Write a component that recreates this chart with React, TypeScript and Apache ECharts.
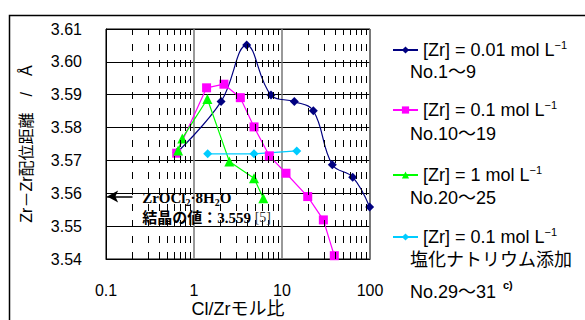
import React, { useEffect, useRef } from "react";
import * as echarts from "echarts";

// ---- data ----
const X_MINOR = [0.2, 0.3, 0.4, 0.5, 0.6, 0.7, 0.8, 0.9, 2, 3, 4, 5, 6, 7, 8, 9, 20, 30, 40, 50, 60, 70, 80, 90];

const s1X = [0.64, 2.03, 3.97, 7.5, 13.8, 22.7, 37.3, 63.6, 99];
const s1Y = [3.5724, 3.5879, 3.6051, 3.5899, 3.5879, 3.5851, 3.5687, 3.5649, 3.5558];

const s2X = [0.636, 1.39, 2.19, 3.36, 4.81, 7.18, 11.1, 19.6, 29.5, 39.3];
const s2Y = [3.5722, 3.5921, 3.5932, 3.5891, 3.5802, 3.5714, 3.5661, 3.559, 3.5519, 3.541];

const s3X = [0.66, 0.736, 1.42, 2.52, 4.81, 6.13];
const s3Y = [3.573, 3.5767, 3.5887, 3.5697, 3.5646, 3.5585];

const s4X = [1.43, 4.81, 14.7];
const s4Y = [3.572, 3.572, 3.5729];

const SERIES_NAMES = [
  "[Zr] = 0.01 mol L-1 No.1〜9",
  "[Zr] = 0.1 mol L-1 No.10〜19",
  "[Zr] = 1 mol L-1 No.20〜25",
  "[Zr] = 0.1 mol L-1 塩化ナトリウム添加 No.29〜31",
];
const LEGEND_CONC = ["0.01", "0.1", "1", "0.1"];
const LEGEND_SUB = [["No.1〜9"], ["No.10〜19"], ["No.20〜25"], ["塩化ナトリウム添加", "No.29〜31"]];
const COLORS = ["#000080", "#FF00FF", "#00FF00", "#00CCFF"];
const SYMBOLS = ["diamond", "rect", "triangle", "diamond"];
const SYMBOL_SIZES = [9, 9, 10, 9];

const REF_VALUE = 3.559;
const ANNOT_LINE1 = "ZrOCl{s|2}·8H{s|2}O";
const ANNOT_LINE2 = "結晶の値：3.559 ";
const ANNOT_REF = "[5]";

const SANS = "'Liberation Sans', 'Noto Sans CJK JP', sans-serif";
const SERIF = "'Liberation Serif', 'DejaVu Serif', 'Noto Sans CJK JP', serif";

const zip = (xs: number[], ys: number[]) => xs.map((x, i) => [x, ys[i]]);

export default function App() {
  const ref = useRef<HTMLDivElement>(null);
  useEffect(() => {
    document.body.style.margin = "0";
    const chart = echarts.init(ref.current!, undefined, { renderer: "svg" });
    const seriesData = [zip(s1X, s1Y), zip(s2X, s2Y), zip(s3X, s3Y), zip(s4X, s4Y)];
    const legendIconY = [50, 110, 175, 237];
    const subLineY = [[71.5], [134], [198], [260, 291.5]];

    const legends = SERIES_NAMES.map((name, i) => ({
      data: [name],
      orient: "vertical",
      left: 392,
      top: legendIconY[i] - 11,
      padding: 0,
      itemWidth: 25,
      itemHeight: 9,
      selectedMode: false,
      formatter: () => `{n|[Zr] = ${LEGEND_CONC[i]} mol L}{sup|−1}`,
      textStyle: {
        fontFamily: SANS,
        fontSize: 18,
        lineHeight: 22,
        color: "#000",
        rich: {
          n: { fontFamily: SANS, fontSize: 18, lineHeight: 22, color: "#000" },
          sup: { fontFamily: SANS, fontSize: 11, lineHeight: 13, verticalAlign: "top", color: "#000" },
        },
      },
    }));

    const graphics: any[] = [
      {
        type: "rect",
        left: 7,
        top: 13,
        shape: { x: 0, y: 0, width: 700, height: 400 },
        style: { fill: "none", stroke: "#000", lineWidth: 1.5 },
        silent: true,
      },
    ];
    LEGEND_SUB.forEach((lines, i) => {
      lines.forEach((t, j) => {
        graphics.push({
          type: "text",
          x: 410,
          y: subLineY[i][j],
          style: {
            text: t,
            font: `18px ${SANS}`,
            fill: "#000",
            verticalAlign: "middle",
          },
        });
      });
    });
    graphics.push({
      type: "text",
      x: 503,
      y: 285,
      style: { text: "c)", font: `bold 11px ${SANS}`, fill: "#000", verticalAlign: "middle" },
    });

    chart.setOption({
      animation: false,
      backgroundColor: "#fff",
      grid: {
        left: 106,
        top: 29,
        right: 215,
        bottom: 61,
        show: true,
        borderColor: "#000",
        borderWidth: 1,
        containLabel: false,
        outerBoundsMode: "none",
      },
      xAxis: {
        type: "log",
        logBase: 10,
        min: 0.1,
        max: 100,
        name: "Cl/Zrモル比",
        nameLocation: "middle",
        nameGap: 41,
        nameMoveOverlap: false,
        nameTextStyle: { fontFamily: SANS, fontSize: 18, lineHeight: 18, color: "#000" },
        axisLine: { show: true, lineStyle: { color: "#000" } },
        axisTick: { show: false },
        axisLabel: {
          fontFamily: SANS,
          fontSize: 16,
          color: "#000",
          margin: 23,
          formatter: (v: number) => String(v),
        },
        splitLine: { show: true, lineStyle: { color: "#777", width: 1.5 } },
      },
      yAxis: {
        type: "value",
        min: 3.54,
        max: 3.61,
        interval: 0.01,
        name: "Zr－Zr配位距離　/　Å",
        nameLocation: "middle",
        nameGap: 72,
        nameRotate: 90,
        nameMoveOverlap: false,
        nameTextStyle: { fontFamily: SANS, fontSize: 16, color: "#000" },
        axisLine: { show: true, lineStyle: { color: "#000" } },
        axisTick: { show: true, inside: true, length: 6, lineStyle: { color: "#000" } },
        axisLabel: {
          fontFamily: SANS,
          fontSize: 16,
          color: "#000",
          margin: 24,
          formatter: (v: number) => v.toFixed(2),
        },
        splitLine: { show: true, lineStyle: { color: "#000", width: 1 } },
      },
      legend: legends,
      graphic: graphics,
      series: [
        {
          type: "line",
          name: "__guides",
          data: [],
          silent: true,
          z: 1,
          markLine: {
            silent: true,
            symbol: ["none", "none"],
            label: { show: false },
            lineStyle: { color: "#000", width: 1, type: [7, 9], opacity: 1 },
            emphasis: { disabled: true },
            data: X_MINOR.map((v) => ({ xAxis: v })),
          },
        },
        {
          type: "line",
          name: "__annot",
          data: [],
          silent: true,
          z: 5,
          markLine: {
            silent: true,
            symbol: ["none", "arrow"],
            symbolSize: [9, 11],
            label: { show: false },
            lineStyle: { color: "#000", width: 1.5, type: "solid" },
            emphasis: { disabled: true },
            data: [[{ coord: [0.2, REF_VALUE] }, { coord: [0.103, REF_VALUE] }]],
          },
          markPoint: {
            silent: true,
            symbol: "circle",
            symbolSize: 1,
            itemStyle: { color: "rgba(0,0,0,0)" },
            data: [{ coord: [0.254, REF_VALUE] }],
            label: {
              show: true,
              position: "right",
              distance: 0,
              offset: [0, 11],
              formatter: () => `{a|${ANNOT_LINE1.replace(/\{s\|2\}/g, "}{s|2}{a|")}}\n{a|${ANNOT_LINE2}}{c|${ANNOT_REF}}`,
              rich: {
                a: { fontFamily: SERIF, fontWeight: "bold", fontSize: 15, lineHeight: 20, color: "#000" },
                s: { fontFamily: SERIF, fontWeight: "bold", fontSize: 10, lineHeight: 15, verticalAlign: "bottom", color: "#000" },
                c: { fontFamily: SERIF, fontSize: 14, lineHeight: 20, color: "#333" },
              },
            },
          },
        },
        ...SERIES_NAMES.map((name, i) => ({
          type: "line",
          name,
          data: seriesData[i],
          z: 3,
          smooth: i === 0 ? 0.4 : false,
          symbol: SYMBOLS[i],
          symbolSize: SYMBOL_SIZES[i],
          showAllSymbol: true,
          lineStyle: { color: COLORS[i], width: 1.2 },
          itemStyle: { color: COLORS[i], borderWidth: 0 },
          emphasis: { disabled: true },
        })),
      ],
    });
    return () => chart.dispose();
  }, []);
  return <div ref={ref} style={{ width: 585, height: 320 }} />;
}
